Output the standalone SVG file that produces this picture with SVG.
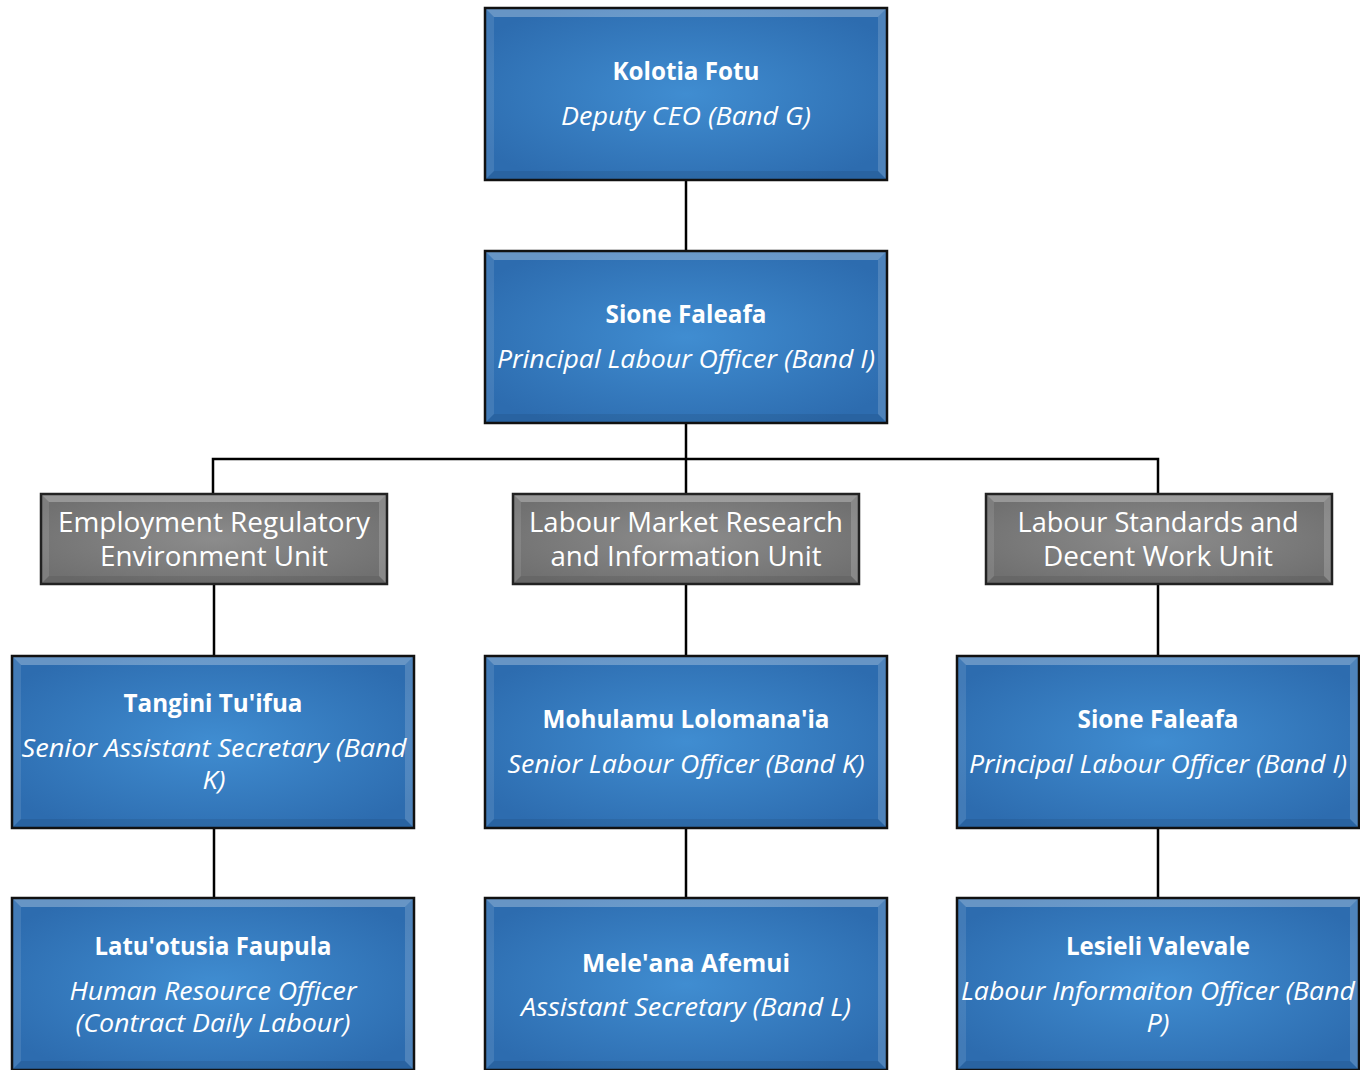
<svg xmlns="http://www.w3.org/2000/svg" xmlns:xlink="http://www.w3.org/1999/xlink" width="1360" height="1070" viewBox="0 0 1360 1070">
<style>
text{font-family:"Open Sans","Noto Sans","Liberation Sans",sans-serif;fill:#fff;text-anchor:middle;dominant-baseline:central}
.n{font-weight:bold;font-size:25px}
.t{font-style:italic;font-size:25px}
.u{font-size:27px}
.c{stroke:#000;stroke-width:2.5;fill:none}
</style>
<defs>
<radialGradient id="gb" cx="0.5" cy="0.5" r="0.6">
<stop offset="0" stop-color="#408dd1"/>
<stop offset="1" stop-color="#2d6caf"/>
</radialGradient>
<radialGradient id="gg" cx="0.5" cy="0.5" r="0.6">
<stop offset="0" stop-color="#8c8c8c"/>
<stop offset="1" stop-color="#707070"/>
</radialGradient>
<symbol id="blue" overflow="visible">
<rect x="0" y="0" width="402" height="172" fill="url(#gb)"/>
<polygon points="0,0 402,0 393,9 9,9" fill="#fff" opacity="0.28"/>
<polygon points="0,0 9,9 9,163 0,172" fill="#fff" opacity="0.1"/>
<polygon points="402,0 393,9 393,163 402,172" fill="#fff" opacity="0.16"/>
<polygon points="0,172 9,163 393,163 402,172" fill="#000" opacity="0.08"/>
<rect x="0" y="0" width="402" height="172" fill="none" stroke="#111" stroke-width="2.5"/>
</symbol>
<symbol id="gray" overflow="visible">
<rect x="0" y="0" width="346" height="90" fill="url(#gg)"/>
<polygon points="0,0 346,0 338,8 8,8" fill="#fff" opacity="0.28"/>
<polygon points="0,0 8,8 8,82 0,90" fill="#fff" opacity="0.1"/>
<polygon points="346,0 338,8 338,82 346,90" fill="#fff" opacity="0.18"/>
<polygon points="0,90 8,82 338,82 346,90" fill="#000" opacity="0.08"/>
<rect x="0" y="0" width="346" height="90" fill="none" stroke="#222" stroke-width="2.5"/>
</symbol>
</defs>
<rect width="1360" height="1070" fill="#fff"/>
<g id="connectors">
<path class="c" d="M686,180V251"/>
<path class="c" d="M686,423V494"/>
<path class="c" d="M213,494V459H1158V494"/>
<path class="c" d="M214,584V656M686,584V656M1158,584V656"/>
<path class="c" d="M214,828V898M686,828V898M1158,828V898"/>
</g>
<g id="n-kolotia">
<use xlink:href="#blue" x="485" y="8"/>
<text class="n" x="686" y="70" textLength="147" lengthAdjust="spacingAndGlyphs">Kolotia Fotu</text>
<text class="t" x="686" y="115" textLength="250" lengthAdjust="spacingAndGlyphs">Deputy CEO (Band G)</text>
</g>
<g id="n-sione1">
<use xlink:href="#blue" x="485" y="251"/>
<text class="n" x="686" y="313" textLength="161" lengthAdjust="spacingAndGlyphs">Sione Faleafa</text>
<text class="t" x="686" y="358" textLength="378" lengthAdjust="spacingAndGlyphs">Principal Labour Officer (Band I)</text>
</g>
<g id="u-employment">
<use xlink:href="#gray" x="41" y="494"/>
<text class="u" x="214" y="521" textLength="312" lengthAdjust="spacingAndGlyphs">Employment Regulatory</text>
<text class="u" x="214" y="555" textLength="228" lengthAdjust="spacingAndGlyphs">Environment Unit</text>
</g>
<g id="u-market">
<use xlink:href="#gray" x="513" y="494"/>
<text class="u" x="686" y="521" textLength="314" lengthAdjust="spacingAndGlyphs">Labour Market Research</text>
<text class="u" x="686" y="555" textLength="271" lengthAdjust="spacingAndGlyphs">and Information Unit</text>
</g>
<g id="u-standards">
<use xlink:href="#gray" x="986" y="494"/>
<text class="u" x="1158" y="521" textLength="281" lengthAdjust="spacingAndGlyphs">Labour Standards and</text>
<text class="u" x="1158" y="555" textLength="230" lengthAdjust="spacingAndGlyphs">Decent Work Unit</text>
</g>
<g id="n-tangini">
<use xlink:href="#blue" x="12" y="656"/>
<text class="n" x="213" y="702" textLength="179" lengthAdjust="spacingAndGlyphs">Tangini Tu'ifua</text>
<text class="t" x="214" y="747" textLength="385" lengthAdjust="spacingAndGlyphs">Senior Assistant Secretary (Band</text>
<text class="t" x="214" y="779" textLength="23" lengthAdjust="spacingAndGlyphs">K)</text>
</g>
<g id="n-mohulamu">
<use xlink:href="#blue" x="485" y="656"/>
<text class="n" x="686" y="718" textLength="287" lengthAdjust="spacingAndGlyphs">Mohulamu Lolomana'ia</text>
<text class="t" x="686" y="763" textLength="357" lengthAdjust="spacingAndGlyphs">Senior Labour Officer (Band K)</text>
</g>
<g id="n-sione2">
<use xlink:href="#blue" x="957" y="656"/>
<text class="n" x="1158" y="718" textLength="161" lengthAdjust="spacingAndGlyphs">Sione Faleafa</text>
<text class="t" x="1158" y="763" textLength="378" lengthAdjust="spacingAndGlyphs">Principal Labour Officer (Band I)</text>
</g>
<g id="n-latu">
<use xlink:href="#blue" x="12" y="898"/>
<text class="n" x="213" y="945" textLength="237" lengthAdjust="spacingAndGlyphs">Latu'otusia Faupula</text>
<text class="t" x="213" y="990" textLength="287" lengthAdjust="spacingAndGlyphs">Human Resource Officer</text>
<text class="t" x="213" y="1022" textLength="275" lengthAdjust="spacingAndGlyphs">(Contract Daily Labour)</text>
</g>
<g id="n-mele">
<use xlink:href="#blue" x="485" y="898"/>
<text class="n" x="686" y="962" textLength="208" lengthAdjust="spacingAndGlyphs">Mele'ana Afemui</text>
<text class="t" x="686" y="1006" textLength="330" lengthAdjust="spacingAndGlyphs">Assistant Secretary (Band L)</text>
</g>
<g id="n-lesieli">
<use xlink:href="#blue" x="957" y="898"/>
<text class="n" x="1158" y="945" textLength="184" lengthAdjust="spacingAndGlyphs">Lesieli Valevale</text>
<text class="t" x="1158" y="990" textLength="394" lengthAdjust="spacingAndGlyphs">Labour Informaiton Officer (Band</text>
<text class="t" x="1158" y="1022" textLength="23" lengthAdjust="spacingAndGlyphs">P)</text>
</g>
</svg>
